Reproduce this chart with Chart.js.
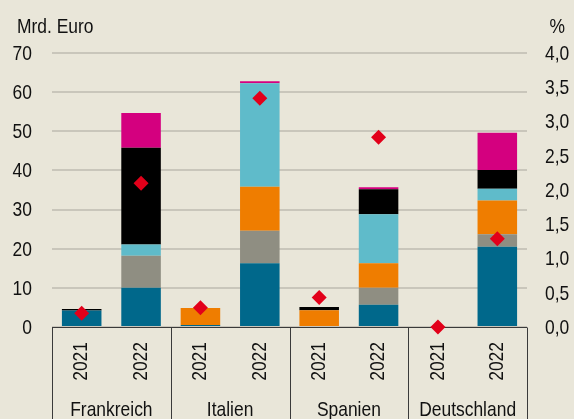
<!DOCTYPE html>
<html>
<head>
<meta charset="utf-8">
<script src="https://cdn.jsdelivr.net/npm/chart.js@4.4.0/dist/chart.umd.min.js"></script>
<style>
  html, body { margin: 0; padding: 0; background: #e9e6d9; }
  #wrap { width: 574px; height: 419px; position: relative; }
</style>
</head>
<body>
<div id="wrap"><canvas id="c" width="574" height="419"></canvas></div>
<script>
// ---- data ----
const years = ['2021', '2022', '2021', '2022', '2021', '2022', '2021', '2022'];
const countries = ['Frankreich', 'Italien', 'Spanien', 'Deutschland'];
const blueSeries    = [4.2, 10.0, 0.5, 16.3, 0, 5.7, 0, 20.5];
const graySeries    = [0, 8.2, 0, 8.3, 0, 4.3, 0, 3.2];
const orangeSeries  = [0, 0, 4.35, 11.25, 4.3, 6.3, 0, 8.6];
const cyanSeries    = [0, 2.9, 0, 26.45, 0, 12.5, 0, 3.0];
const blackSeries   = [0.4, 24.7, 0, 0, 0.8, 6.4, 0, 4.8];
const magentaSeries = [0, 8.9, 0, 0.5, 0, 0.5, 0, 9.5];
const percentSeries = [0.20, 2.10, 0.28, 3.34, 0.43, 2.77, 0.0, 1.29];
const leftTicks = [0, 10, 20, 30, 40, 50, 60, 70];
const rightTicks = [0, 0.5, 1, 1.5, 2, 2.5, 3, 3.5, 4];
const leftUnit = 'Mrd. Euro';
const rightUnit = '%';

const FONT = '21px "Liberation Sans", Arial, sans-serif';
const SQUEEZE = 0.83; // narrow typeface look
const TXT = '#111111';

function barSet(data, color) {
  return { type: 'bar', data, backgroundColor: color, borderWidth: 0,
           yAxisID: 'y', xAxisID: 'x', order: 2,
           barPercentage: 0.666, categoryPercentage: 1.0 };
}

function txt(ctx, s, x, y, align, baseline, rotate) {
  ctx.save();
  ctx.translate(x, y);
  if (rotate) ctx.rotate(-Math.PI / 2);
  ctx.scale(SQUEEZE, 1);
  ctx.font = FONT;
  ctx.fillStyle = TXT;
  ctx.textAlign = align;
  ctx.textBaseline = baseline;
  ctx.fillText(s, 0, 0);
  ctx.restore();
}

const labelPlugin = {
  id: 'labelPlugin',
  afterDraw(chart) {
    const ctx = chart.ctx;
    const a = chart.chartArea;
    const xs = chart.scales.x, ys = chart.scales.y, y2 = chart.scales.y2;
    const bottom = chart.height;
    ctx.save();
    // category box lines
    ctx.strokeStyle = '#3a3a3a';
    ctx.lineWidth = 1;
    const yAx = Math.round(a.bottom) + 0.5;
    ctx.beginPath();
    ctx.moveTo(a.left, yAx); ctx.lineTo(a.right, yAx);
    const bounds = [a.left];
    for (let i = 1; i < countries.length; i++) {
      bounds.push((xs.getPixelForValue(2 * i - 1) + xs.getPixelForValue(2 * i)) / 2);
    }
    bounds.push(a.right);
    bounds.forEach(b => {
      const xx = Math.round(b) + 0.5;
      ctx.moveTo(xx, yAx); ctx.lineTo(xx, bottom);
    });
    ctx.stroke();
    ctx.restore();

    // tick labels
    leftTicks.forEach(v => txt(ctx, String(v), a.left - 20, ys.getPixelForValue(v) + 1, 'right', 'middle'));
    rightTicks.forEach(v => txt(ctx, v.toFixed(1).replace('.', ','), a.right + 18, y2.getPixelForValue(v) + 1, 'left', 'middle'));
    years.forEach((yr, i) => txt(ctx, yr, xs.getPixelForValue(i), a.bottom + 15, 'right', 'middle', true));
    countries.forEach((c, i) => {
      const cx = (xs.getPixelForValue(2 * i) + xs.getPixelForValue(2 * i + 1)) / 2;
      txt(ctx, c, cx, 416, 'center', 'alphabetic');
    });
    txt(ctx, leftUnit, 17, 33, 'left', 'alphabetic');
    txt(ctx, rightUnit, 565, 33, 'right', 'alphabetic');

    // diamonds on top of everything
    const meta = chart.getDatasetMeta(6);
    ctx.save();
    ctx.fillStyle = '#e2001a';
    meta.data.forEach(pt => {
      const r = 7.5;
      ctx.beginPath();
      ctx.moveTo(pt.x, pt.y - r);
      ctx.lineTo(pt.x + r, pt.y);
      ctx.lineTo(pt.x, pt.y + r);
      ctx.lineTo(pt.x - r, pt.y);
      ctx.closePath();
      ctx.fill();
    });
    ctx.restore();
  }
};

new Chart(document.getElementById('c'), {
  data: {
    labels: years,
    datasets: [
      barSet(blueSeries, '#00688b'),
      barSet(graySeries, '#8f8e82'),
      barSet(orangeSeries, '#ef7d00'),
      barSet(cyanSeries, '#5fbbca'),
      barSet(blackSeries, '#000000'),
      barSet(magentaSeries, '#d4007f'),
      { type: 'line', data: percentSeries, yAxisID: 'y2', xAxisID: 'x',
        showLine: false, pointStyle: 'rectRot', pointRadius: 0,
        pointBackgroundColor: '#e2001a', pointBorderWidth: 0, order: 0, clip: false }
    ]
  },
  options: {
    responsive: false,
    animation: false,
    events: [],
    layout: { padding: { top: 53, left: 0, right: 0, bottom: 0 } },
    plugins: { legend: { display: false }, tooltip: { enabled: false } },
    scales: {
      x: {
        type: 'category', stacked: true, position: 'bottom',
        grid: { display: false, drawTicks: false },
        border: { display: false },
        ticks: { display: false },
        afterFit(s) { s.height = 92; }
      },
      y: {
        type: 'linear', stacked: true, position: 'left', min: 0, max: 70,
        afterBuildTicks(s) { s.ticks = leftTicks.map(v => ({ value: v })); },
        grid: { color: '#c9c6bb', lineWidth: 2, drawTicks: false },
        border: { display: false },
        ticks: { display: false },
        afterFit(s) { s.width = 52; }
      },
      y2: {
        type: 'linear', position: 'right', min: 0, max: 4,
        afterBuildTicks(s) { s.ticks = rightTicks.map(v => ({ value: v })); },
        grid: { display: false, drawTicks: false },
        border: { display: false },
        ticks: { display: false },
        afterFit(s) { s.width = 47; }
      }
    }
  },
  plugins: [labelPlugin]
});
</script>
</body>
</html>
